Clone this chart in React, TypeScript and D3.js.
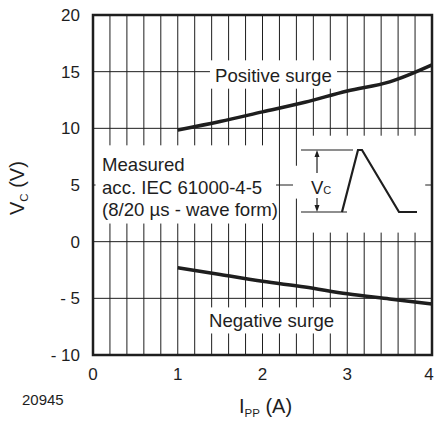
import * as d3 from 'd3'

const currents = [1, 1.5, 2, 2.5, 3, 3.5, 4]
const positiveSurge = [9.85, 10.6, 11.45, 12.3, 13.3, 14.1, 15.6]
const negativeSurge = [-2.3, -2.9, -3.5, -4.0, -4.6, -5.05, -5.5]
const xTicks = [0, 1, 2, 3, 4]
const yTicks = [20, 15, 10, 5, 0, -5, -10]
const yTickLabels = ['20', '15', '10', '5', '0', '- 5', '- 10']
const measuredLines = ['Measured', 'acc. IEC 61000-4-5', '(8/20 µs - wave form)']

// white label boxes in data units: [x0, x1, y0, y1]
const labelBoxes = [
    [0.03, 2.16, 8.5, 1.6],
    [1.38, 2.88, 16.0, 13.5],
    [1.26, 2.91, -5.8, -8.1],
    [2.43, 3.92, 9.35, 0.8],
    [2.36, 2.44, 6.7, 3.8],
]

const ink = '#1e1e1e'
const font = '"Liberation Sans", Arial, Helvetica, sans-serif'

export default function App() {
    const width = 435
    const height = 422

    const x = d3.scaleLinear().domain([0, 4]).range([93, 432])
    const y = d3.scaleLinear().domain([-10, 20]).range([355, 15])

    const line = d3.line<number>()
        .x((_, i) => x(currents[i]))
        .curve(d3.curveMonotoneX)

    const posPath = line.y(d => y(d))(positiveSurge) ?? ''
    const negPath = line.y(d => y(d))(negativeSurge) ?? ''

    return (
        <svg width={width} height={height} style={{ position: 'absolute', left: 0, top: 0, background: '#fff' }}
            fontFamily={font} fill={ink}>
            {/* grid */}
            <g stroke={ink} strokeWidth={1}>
                {x.ticks(20).map(t => (
                    <line key={'v' + t} x1={x(t)} x2={x(t)} y1={y(20)} y2={y(-10)} />
                ))}
                {y.ticks(6).map(t => (
                    <line key={'h' + t} x1={x(0)} x2={x(4)} y1={y(t)} y2={y(t)} />
                ))}
            </g>

            {labelBoxes.map((b, i) => (
                <rect key={i} x={x(b[0])} y={y(b[2])} width={x(b[1]) - x(b[0])} height={y(b[3]) - y(b[2])} fill="#fff" />
            ))}

            <rect x={x(0)} y={y(20)} width={x(4) - x(0)} height={y(-10) - y(20)} fill="none" stroke={ink} strokeWidth={2.5} />

            {/* curves */}
            <path d={posPath} fill="none" stroke={ink} strokeWidth={3.5} />
            <path d={negPath} fill="none" stroke={ink} strokeWidth={3.5} />

            {/* tick labels */}
            <g fontSize={17}>
                {yTicks.map((t, i) => (
                    <text key={t} x={80} y={y(t) + 6} textAnchor="end">{yTickLabels[i]}</text>
                ))}
                {xTicks.map(t => (
                    <text key={t} x={Math.min(x(t), 429)} y={380} textAnchor="middle">{t}</text>
                ))}
            </g>

            {/* annotations */}
            <g fontSize={18.6}>
                {measuredLines.map((s, i) => (
                    <text key={i} x={102} y={171 + i * 22.5}>{s}</text>
                ))}
                <text x={215} y={82}>Positive surge</text>
                <text x={209} y={327}>Negative surge</text>
            </g>

            {/* inset waveform */}
            <g stroke={ink} fill="none">
                <line x1={301} x2={353} y1={150} y2={150} strokeWidth={1.2} />
                <line x1={301} x2={347} y1={212} y2={212} strokeWidth={1.2} />
                <line x1={317} x2={317} y1={156} y2={173} strokeWidth={1.2} />
                <line x1={317} x2={317} y1={198} y2={206} strokeWidth={1.2} />
                <polyline points="342,212 358,150 362,150 399,212 417,212" strokeWidth={2.2} />
            </g>
            <path d="M317,150 L314.5,157 L319.5,157 Z M317,212 L314.5,205 L319.5,205 Z" fill={ink} />
            <text x={311} y={194} fontSize={18.5}>V<tspan fontSize={11} dy={0}>C</tspan></text>

            {/* axis titles */}
            <text x={239} y={413} fontSize={20}>I<tspan fontSize={11.5} dy={4}>PP</tspan><tspan dy={-4}> (A)</tspan></text>
            <text transform="translate(24,215) rotate(-90)" fontSize={20}>V<tspan fontSize={11.5} dy={4}>C</tspan><tspan dy={-4}> (V)</tspan></text>

            <text x={22} y={405} fontSize={15}>20945</text>
        </svg>
    )
}
